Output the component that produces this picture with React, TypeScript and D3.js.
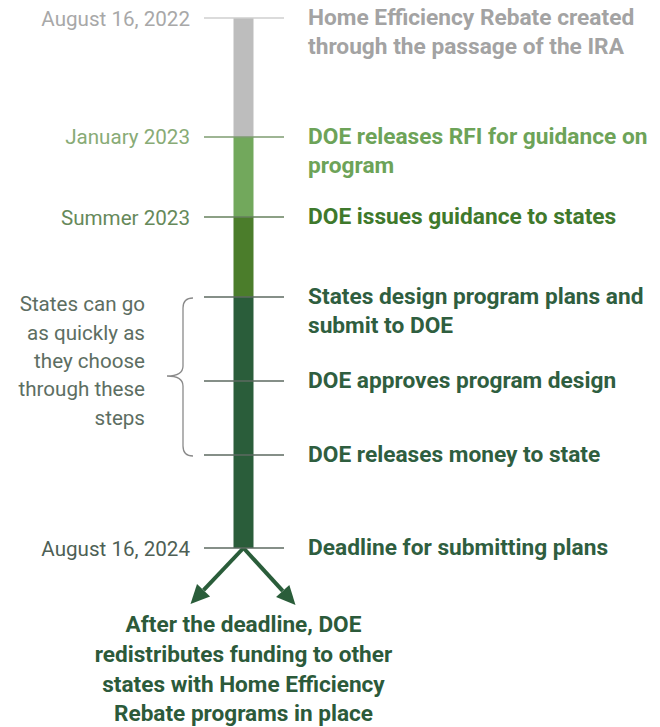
import React from "react";
import * as d3 from "d3";

// ---- data ----
const eventTitles: string[][] = [
  ["Home Efficiency Rebate created", "through the passage of the IRA"],
  ["DOE releases RFI for guidance on", "program"],
  ["DOE issues guidance to states"],
  ["States design program plans and", "submit to DOE"],
  ["DOE approves program design"],
  ["DOE releases money to state"],
  ["Deadline for submitting plans"],
];
const eventDates: string[] = [
  "August 16, 2022",
  "January 2023",
  "Summer 2023",
  "",
  "",
  "",
  "August 16, 2024",
];
// relative position along the timeline (0 = start, 100 = deadline)
const eventPositions: number[] = [0, 22.45, 37.55, 52.64, 68.49, 82.45, 100];
// phase index of each event (drives colour)
const eventPhases: number[] = [0, 1, 2, 3, 3, 3, 3];
const bracketLines: string[] = [
  "States can go",
  "as quickly as",
  "they choose",
  "through these",
  "steps",
];
const bracketRange: [number, number] = [3, 5];
const outcomeLines: string[] = [
  "After the deadline, DOE",
  "redistributes funding to other",
  "states with Home Efficiency",
  "Rebate programs in place",
];

// ---- styles ----
const W = 660;
const H = 727;
const barColors = ["#bdbdbd", "#72a85c", "#4b7d2b", "#2a5d3a"];
const titleColors = ["#a3a3a3", "#6da358", "#3f792c", "#2f5e3f"];
const dateColors = ["#a8a8a8", "#88ab76", "#66895a", "#4e5f55"];
const tickColors = ["#cfcfcf", "#7e9c70", "#66805c", "#5c6a60"];
const FONT = "Roboto, 'Noto Sans', sans-serif";

export default function App() {
  const y = d3.scaleLinear().domain([0, 100]).range([18, 548]);
  const cx = 243.5;
  const barW = 20;
  const tickL = 204;
  const tickR = 284;

  const segments = eventPositions.slice(0, -1).map((p, i) => ({
    y0: y(p),
    y1: y(eventPositions[i + 1]),
    color: barColors[eventPhases[i]],
  }));

  const yEnd = y(eventPositions[eventPositions.length - 1]);
  const arrowTips: [number, number][] = [
    [cx - 53, yEnd + 56],
    [cx + 52, yEnd + 57],
  ];

  const arrowHead = (x0: number, y0: number, x1: number, y1: number) => {
    const ang = Math.atan2(y1 - y0, x1 - x0);
    const len = 19;
    const hw = 9;
    const bx = x1 - len * Math.cos(ang);
    const by = y1 - len * Math.sin(ang);
    const px = -Math.sin(ang);
    const py = Math.cos(ang);
    const path = d3.path();
    path.moveTo(x1, y1);
    path.lineTo(bx + px * hw, by + py * hw);
    path.lineTo(bx - px * hw, by - py * hw);
    path.closePath();
    return { d: path.toString(), bx, by };
  };

  // brace
  const bTop = y(eventPositions[bracketRange[0]]) + 1;
  const bBot = y(eventPositions[bracketRange[1]]) + 1;
  const bMid = (bTop + bBot) / 2 - 1;
  const bxEnd = 193;
  const bxLine = 183;
  const bxTip = 167;
  const r = 10;
  const brace = d3.path();
  brace.moveTo(bxEnd, bTop);
  brace.quadraticCurveTo(bxLine, bTop, bxLine, bTop + r);
  brace.lineTo(bxLine, bMid - r);
  brace.quadraticCurveTo(bxLine, bMid, bxTip, bMid);
  brace.quadraticCurveTo(bxLine, bMid, bxLine, bMid + r);
  brace.lineTo(bxLine, bBot - r);
  brace.quadraticCurveTo(bxLine, bBot, bxEnd, bBot);

  const bracketLH = 28.3;
  const bracketStart = bMid - ((bracketLines.length - 1) * bracketLH) / 2 - 8;

  return (
    <svg
      width={W}
      height={H}
      style={{ position: "absolute", left: 0, top: 0, background: "#fff" }}
      fontFamily={FONT}
    >
      <rect x={0} y={0} width={W} height={H} fill="#fff" />
      {segments.map((s, i) => (
        <rect
          key={"seg" + i}
          x={cx - barW / 2}
          y={s.y0}
          width={barW}
          height={s.y1 - s.y0}
          fill={s.color}
        />
      ))}

      {/* arrows */}
      {arrowTips.map(([tx, ty], i) => {
        const h = arrowHead(cx, yEnd, tx, ty);
        return (
          <g key={"arr" + i}>
            <line
              x1={cx}
              y1={yEnd}
              x2={h.bx}
              y2={h.by}
              stroke={barColors[3]}
              strokeWidth={4}
            />
            <path d={h.d} fill={barColors[3]} />
          </g>
        );
      })}

      {eventPositions.map((p, i) => {
        const yy = y(p);
        const ph = eventPhases[i];
        return (
          <g key={"ev" + i}>
            <line
              x1={tickL}
              x2={tickR}
              y1={yy}
              y2={yy}
              stroke={tickColors[ph]}
              strokeWidth={1.5}
            />
            {eventDates[i] && (
              <text
                x={190}
                y={yy + 7.5}
                textAnchor="end"
                fontSize={20.6}
                fill={dateColors[ph]}
              >
                {eventDates[i]}
              </text>
            )}
            {eventTitles[i].map((line, j) => (
              <text
                key={j}
                x={308}
                y={yy + 7 + j * 29}
                fontSize={22.7}
                fontWeight={700}
                fill={titleColors[ph]}
              >
                {line}
              </text>
            ))}
          </g>
        );
      })}

      {/* brace */}
      <path d={brace.toString()} fill="none" stroke="#8a8a8a" strokeWidth={1.3} />
      {bracketLines.map((l, i) => (
        <text
          key={"bl" + i}
          x={145}
          y={bracketStart + i * bracketLH}
          textAnchor="end"
          fontSize={20.6}
          fill="#5d6e62"
        >
          {l}
        </text>
      ))}

      {outcomeLines.map((l, i) => (
        <text
          key={"ol" + i}
          x={cx}
          y={632 + i * 29.8}
          textAnchor="middle"
          fontSize={22.6}
          fontWeight={700}
          fill="#2c5a3a"
        >
          {l}
        </text>
      ))}
    </svg>
  );
}
